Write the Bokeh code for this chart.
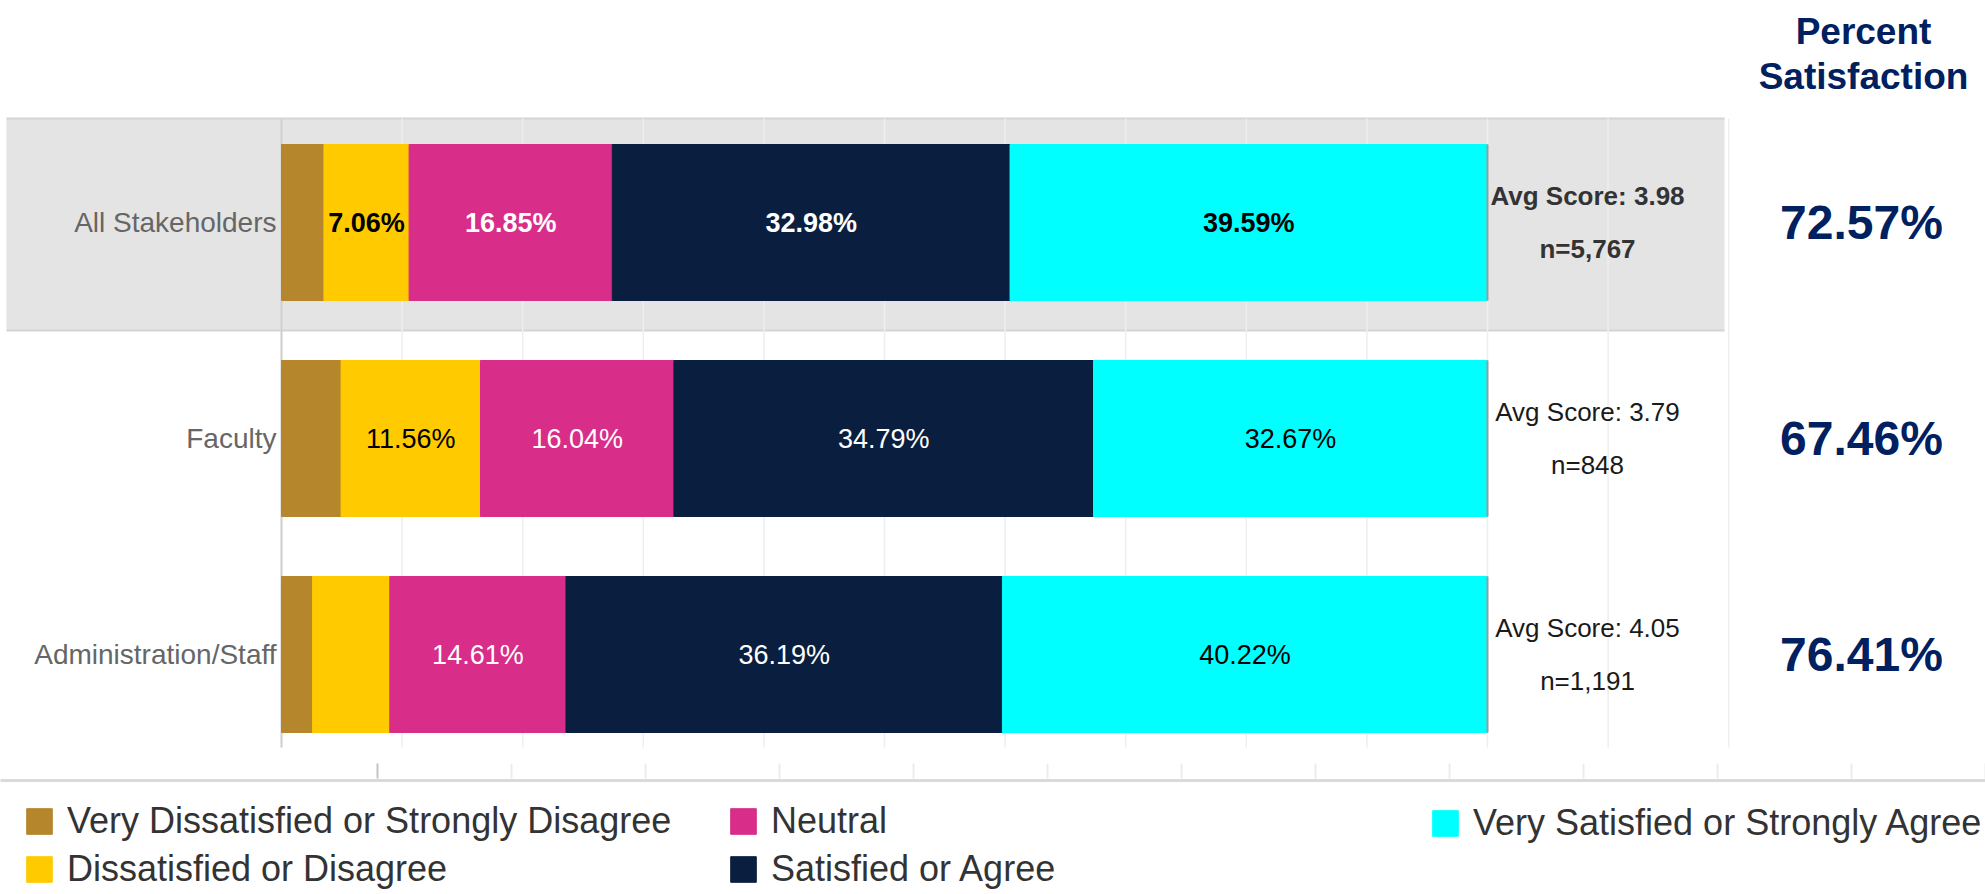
from bokeh.plotting import figure
from bokeh.models import Range1d, ColumnDataSource, Legend, LegendItem
from bokeh.core.properties import value
from bokeh.embed import file_html
from bokeh.resources import INLINE

# ---------------- data ----------------
categories = ["All Stakeholders", "Faculty", "Administration/Staff"]
levels = [
    "Very Dissatisfied or Strongly Disagree",
    "Dissatisfied or Disagree",
    "Neutral",
    "Satisfied or Agree",
    "Very Satisfied or Strongly Agree",
]
very_dissatisfied = [3.52, 4.94, 2.58]
dissatisfied = [7.06, 11.56, 6.40]
neutral = [16.85, 16.04, 14.61]
satisfied = [32.98, 34.79, 36.19]
very_satisfied = [39.59, 32.67, 40.22]
avg_score = [3.98, 3.79, 4.05]
n_responses = [5767, 848, 1191]
highlight = "All Stakeholders"
grid_ticks = [0, 10, 20, 30, 40, 50, 60, 70, 80, 90, 100, 110, 120]

# ---------------- style ----------------
colors = ["#B5862C", "#FFCB00", "#D82D89", "#0A1F3F", "#00FFFF"]
label_colors = ["#FFFFFF", "#000000", "#FFFFFF", "#FFFFFF", "#000000"]
TAB = "Liberation Sans, Arial, sans-serif"
SANS = "Liberation Sans, Arial, sans-serif"
NAVY = "#002060"

W, H = 1985, 894
PX = 12.06          # pixels per percent
X0 = 281            # pixel of 0 %
ROW = 216.0         # pixel pitch of rows
Y0 = 222            # pixel of first row centre


def dx(px):
    return (px - X0) / PX


def dy(py):
    return (py - Y0) / ROW


x_range = Range1d(-X0 / PX, (W - X0) / PX)
y_range = Range1d((H - Y0) / ROW, -Y0 / ROW)

p = figure(width=W, height=H, x_range=x_range, y_range=y_range,
           output_backend="svg", toolbar_location=None, min_border=0,
           x_axis_type=None, y_axis_type=None, outline_line_color=None,
           background_fill_color="white", border_fill_color="white")

ys = list(range(len(categories)))
keys = ["vd", "d", "neu", "sat", "vs"]
series = [very_dissatisfied, dissatisfied, neutral, satisfied, very_satisfied]
src = ColumnDataSource(dict(y=ys, cat=categories, **{k: s for k, s in zip(keys, series)}))

# highlighted row band
hy = categories.index(highlight)
band_left, band_right = dx(6), dx(1724)
band_top, band_bottom = hy + dy(118), hy + dy(330)
p.quad(left=[band_left], right=[band_right], top=[band_top], bottom=[band_bottom],
       fill_color="#E4E4E4", line_color=None)
p.segment(x0=[band_left, band_left], x1=[band_right, band_right],
          y0=[band_top, band_bottom], y1=[band_top, band_bottom],
          line_color="#D4D4D4", line_width=2)

# pane grid lines
pane_top, pane_bottom = band_top, dy(747)
p.segment(x0=grid_ticks, x1=grid_ticks, y0=[pane_top] * len(grid_ticks),
          y1=[pane_bottom] * len(grid_ticks), line_color="#EEEEEE", line_width=1.5)
p.segment(x0=[0], x1=[0], y0=[pane_top], y1=[pane_bottom],
          line_color="#CFCFCF", line_width=2)

# stacked bars
BAR_H = 156 / ROW
rends = p.hbar_stack(keys, y="y", height=BAR_H, color=colors, source=src)

totals = [sum(v) for v in zip(*series)]
p.segment(x0=totals, x1=totals, y0=[y - BAR_H / 2 for y in ys],
          y1=[y + BAR_H / 2 for y in ys], line_color="#9A9A9A", line_width=2)

# labels inside the bars
for bold in (True, False):
    lx, ly, lt, lc = [], [], [], []
    for i, cat in enumerate(categories):
        if (cat == highlight) != bold:
            continue
        left = 0.0
        for j, s in enumerate(series):
            v = s[i]
            if v >= 7.0:
                lx.append(left + v / 2)
                ly.append(i)
                lt.append(f"{v:.2f}%")
                lc.append(label_colors[j])
            left += v
    p.text(x=lx, y=ly, text=lt, text_color=lc, text_align="center",
           text_baseline="middle", text_font=value(TAB), text_font_size="27px",
           text_font_style="bold" if bold else "normal")

# category labels (row headers)
p.text(x=[dx(276)] * len(categories), y=ys, text=categories, text_color="#666666",
       text_align="right", text_baseline="middle", text_font=value(TAB),
       text_font_size="28px")

# avg score / n (two lines)
half = 26.5 / ROW
for bold in (True, False):
    idx = [i for i, c in enumerate(categories) if (c == highlight) == bold]
    common = dict(text_color="#333333" if bold else "#1A1A1A", text_align="center",
                  text_baseline="middle", text_font=value(TAB), text_font_size="26px",
                  text_font_style="bold" if bold else "normal")
    p.text(x=[dx(1587)] * len(idx), y=[ys[i] - half for i in idx],
           text=[f"Avg Score: {avg_score[i]:.2f}" for i in idx], **common)
    p.text(x=[dx(1587)] * len(idx), y=[ys[i] + half for i in idx],
           text=[f"n={n_responses[i]:,}" for i in idx], **common)

# percent satisfaction column
pct = [s + v for s, v in zip(satisfied, very_satisfied)]
p.text(x=[dx(1861)] * len(categories), y=ys, text=[f"{v:.2f}%" for v in pct],
       text_color=NAVY, text_align="center", text_baseline="middle",
       text_font=value(SANS), text_font_size="48px", text_font_style="bold")
p.text(x=[dx(1863), dx(1863)], y=[dy(31), dy(76)], text=["Percent", "Satisfaction"],
       text_color=NAVY, text_align="center", text_baseline="middle",
       text_font=value(SANS), text_font_size="37px", text_font_style="bold")

# bottom axis line and ticks
axis_y = dy(780)
p.segment(x0=[x_range.start - 1], x1=[x_range.end + 1], y0=[axis_y], y1=[axis_y],
          line_color="#DADADA", line_width=3)
bottom_ticks = [dx(377) + k * (134 / PX) for k in range(13)]
p.segment(x0=bottom_ticks, x1=bottom_ticks, y0=[dy(763)] * 13, y1=[dy(778)] * 13,
          line_color=["#C4C4C4"] + ["#ECECEC"] * 12, line_width=2)

# legend
items = [LegendItem(label=lab, renderers=[r]) for lab, r in zip(levels, rends)]


def add_legend(its, loc):
    lg = Legend(items=its, location=loc, orientation="vertical",
                glyph_width=32, glyph_height=32, label_text_font=TAB,
                label_text_font_size="36px", label_text_color="#333333",
                label_standoff=12, spacing=6, padding=0, margin=0,
                border_line_color=None, background_fill_alpha=0, label_height=41)
    p.add_layout(lg, "center")


add_legend(items[0:2], (23, 4))
add_legend(items[2:4], (727, 4))
add_legend(items[4:5], (1429, 50))

open("out.html", "w").write(file_html(p, INLINE))
